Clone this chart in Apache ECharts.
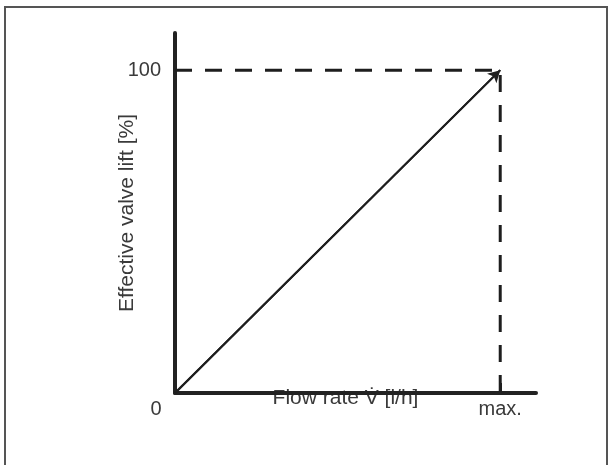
<!DOCTYPE html>
<html>
<head>
<meta charset="utf-8">
<script src="https://cdn.jsdelivr.net/npm/echarts@6/dist/echarts.min.js"></script>
<style>
html,body{margin:0;padding:0;background:#fff;}
#c{width:613px;height:465px;}
</style>
</head>
<body>
<div id="c"></div>
<script>
// ---- data ----
const flowRate = [0, 100];          // x: 0 .. max.
const valveLift = [0, 100];         // y: 0 .. 100 %
const refLineX = [0, 100, 100];     // dashed reference: to (max,100) then down
const refLineY = [100, 100, 0];
const xTickValues = [0, 100];
const xTickLabels = ['0', 'max.'];
const yTickValues = [100];
const yTickLabels = ['100'];
const xAxisName = 'Flow rate V\u0307 [l/h]';
const yAxisName = 'Effective valve lift [%]';

const chart = echarts.init(document.getElementById('c'), null, {renderer: 'canvas'});
const font = 'Arial, "Liberation Sans", sans-serif';
const textColor = '#3a3a3a';
const axisColor = '#222';

const option = {
  backgroundColor: '#fff',
  animation: false,
  graphic: [{
    type: 'rect',
    shape: {x: 5, y: 7, width: 602, height: 520},
    style: {fill: 'none', stroke: '#555', lineWidth: 2},
    silent: true
  }],
  grid: {left: 175, right: 77, top: 33, bottom: 72, containLabel: false},
  xAxis: {
    type: 'value', min: 0, max: 111,
    name: xAxisName, nameLocation: 'middle', nameGap: -5, nameMoveOverlap: false,
    nameTextStyle: {fontFamily: font, fontSize: 21, color: textColor, padding: [0, 20, 0, 0]},
    axisLine: {show: true, onZero: false, lineStyle: {color: axisColor, width: 4}},
    axisTick: {show: true, inside: true, length: 10, customValues: [xTickValues[1]], lineStyle: {color: axisColor, width: 3}},
    splitLine: {show: false},
    axisLabel: {
      customValues: xTickValues,
      margin: 6,
      fontFamily: font, fontSize: 20, color: textColor,
      formatter: function (v) {
        const i = xTickValues.indexOf(v);
        if (i === 0) return '{z|' + xTickLabels[0] + '}';
        return i >= 0 ? xTickLabels[i] : '';
      },
      rich: {z: {fontFamily: font, fontSize: 20, color: textColor, padding: [0, 38, 0, 0]}}
    }
  },
  yAxis: {
    type: 'value', min: 0, max: 111.5,
    name: yAxisName, nameLocation: 'middle', nameGap: 37, nameRotate: 90, nameMoveOverlap: false,
    nameTextStyle: {fontFamily: font, fontSize: 21, color: textColor},
    axisLine: {show: true, onZero: false, lineStyle: {color: axisColor, width: 4}},
    axisTick: {show: false},
    splitLine: {show: false},
    axisLabel: {
      customValues: yTickValues,
      margin: 14,
      fontFamily: font, fontSize: 20, color: textColor,
      formatter: function (v) {
        const i = yTickValues.indexOf(v);
        return i >= 0 ? yTickLabels[i] : '';
      }
    }
  },
  series: [
    {
      type: 'line',
      data: refLineX.map((x, i) => [x, refLineY[i]]),
      symbol: 'none',
      lineStyle: {color: '#1e1e1e', width: 3, type: [17, 13]},
      silent: true, z: 2
    },
    {
      type: 'line',
      data: flowRate.map((x, i) => [x, valveLift[i]]),
      symbol: 'none',
      lineStyle: {color: '#1e1e1e', width: 2},
      silent: true, z: 3,
      markLine: {
        silent: true,
        symbol: ['none', 'arrow'],
        symbolSize: [10, 12],
        label: {show: false},
        lineStyle: {color: '#1e1e1e', width: 2, type: 'solid'},
        data: [[{coord: [flowRate[0], valveLift[0]]}, {coord: [flowRate[1], valveLift[1]]}]]
      }
    }
  ]
};
chart.setOption(option);
</script>
</body>
</html>
